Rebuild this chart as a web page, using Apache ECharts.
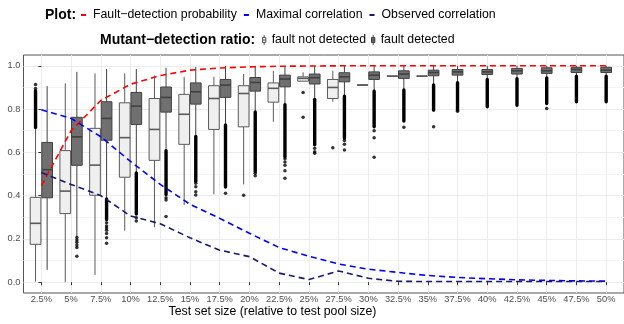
<!DOCTYPE html>
<html>
<head>
<meta charset="utf-8">
<script src="https://cdn.jsdelivr.net/npm/echarts@6/dist/echarts.min.js"></script>
<style>
  html, body { margin: 0; padding: 0; background: #fff; }
  #chart { width: 624px; height: 324px; }
</style>
</head>
<body>
<div id="chart"></div>
<script>
// test set sizes (x categories)
const sizes = ['2.5%', '5%', '7.5%', '10%', '12.5%', '15%', '17.5%', '20%', '22.5%', '25%',
  '27.5%', '30%', '32.5%', '35%', '37.5%', '40%', '42.5%', '45%', '47.5%', '50%'];

// line series
const detProb = [0.446, 0.70, 0.84, 0.915, 0.955, 0.98, 0.99, 0.995, 0.998, 0.999,
  1, 1, 1, 1, 1, 1, 1, 1, 1, 1];
const maxCorr = [0.797, 0.757, 0.672, 0.558, 0.452, 0.36, 0.295, 0.226, 0.16, 0.12,
  0.084, 0.06, 0.045, 0.031, 0.022, 0.016, 0.011, 0.008, 0.006, 0.005];
const obsCorr = [0.507, 0.452, 0.40, 0.306, 0.27, 0.205, 0.148, 0.118, 0.042, 0.012,
  0.052, 0.018, 0.004, 0.003, 0.003, 0.003, 0.003, 0.003, 0.003, 0.003];

// boxplots: [lower whisker, Q1, median, Q3, upper whisker]
const notDetBox = [
  [0.003, 0.175, 0.272, 0.392, 0.711],
  [0.0, 0.317, 0.421, 0.608, 0.919],
  [0.034, 0.402, 0.541, 0.711, 0.965],
  [0.238, 0.485, 0.668, 0.829, 0.965],
  [0.254, 0.563, 0.706, 0.849, 0.955],
  [0.357, 0.637, 0.776, 0.868, 0.949],
  [0.406, 0.706, 0.849, 0.908, 0.949],
  [0.452, 0.718, 0.872, 0.908, 0.962],
  [0.741, 0.832, 0.896, 0.921, 0.977],
  [0.929, 0.929, 0.942, 0.949, 0.970],
  [0.834, 0.849, 0.900, 0.937, 0.977],
  [0.911, 0.911, 0.911, 0.911, 0.911],
  [0.952, 0.952, 0.952, 0.952, 0.952],
  [0.952, 0.952, 0.952, 0.952, 0.952]
];
const detBox = [
  [0.057, 0.39, 0.52, 0.646, 0.906],
  [0.211, 0.540, 0.672, 0.762, 0.972],
  [0.39, 0.656, 0.757, 0.834, 0.985],
  [0.507, 0.729, 0.814, 0.877, 0.985],
  [0.612, 0.786, 0.854, 0.902, 0.991],
  [0.676, 0.823, 0.880, 0.921, 0.995],
  [0.729, 0.854, 0.911, 0.937, 1.0],
  [0.789, 0.883, 0.923, 0.946, 1.0],
  [0.822, 0.903, 0.939, 0.957, 1.0],
  [0.847, 0.916, 0.945, 0.962, 1.0],
  [0.863, 0.926, 0.949, 0.968, 1.0],
  [0.885, 0.937, 0.957, 0.972, 1.0],
  [0.89, 0.942, 0.962, 0.977, 1.0],
  [0.915, 0.954, 0.969, 0.98, 1.0],
  [0.925, 0.957, 0.972, 0.983, 1.0],
  [0.94, 0.960, 0.972, 0.983, 1.0],
  [0.945, 0.962, 0.977, 0.988, 1.0],
  [0.948, 0.965, 0.977, 0.991, 1.0],
  [0.955, 0.969, 0.983, 0.993, 1.0],
  [0.955, 0.969, 0.980, 0.993, 1.0]
];

// dense runs of outliers: [category, low, high]
const notDetRuns = [[0, 0.715, 0.885]];
const detRuns = [
  [2, 0.29, 0.385], [3, 0.315, 0.505], [4, 0.405, 0.608], [5, 0.465, 0.673],
  [6, 0.44, 0.727], [7, 0.51, 0.787], [8, 0.58, 0.82], [9, 0.635, 0.845],
  [10, 0.665, 0.86], [11, 0.718, 0.883], [12, 0.745, 0.888], [13, 0.795, 0.912],
  [14, 0.795, 0.922], [15, 0.811, 0.937], [16, 0.818, 0.94], [17, 0.826, 0.944],
  [18, 0.834, 0.952], [19, 0.834, 0.952]
];
// single outliers: [category, value]
const notDetDots = [[0, 0.895], [0, 0.914], [7, 0.402], [9, 0.877], [9, 0.762], [10, 0.621]];
const detDots = [
  [1, 0.206], [1, 0.195], [1, 0.185], [1, 0.172], [1, 0.160], [1, 0.120],
  [2, 0.275], [2, 0.26], [2, 0.25], [2, 0.24], [2, 0.225], [2, 0.205], [2, 0.18],
  [3, 0.298], [3, 0.283],
  [4, 0.39], [4, 0.38], [4, 0.303],
  [5, 0.457], [5, 0.441], [5, 0.418], [5, 0.403],
  [6, 0.411],
  [7, 0.503], [7, 0.492],
  [8, 0.57], [8, 0.555], [8, 0.54], [8, 0.515], [8, 0.48],
  [9, 0.619], [9, 0.603], [9, 0.596],
  [10, 0.655], [10, 0.637], [10, 0.611],
  [11, 0.70], [11, 0.668], [11, 0.577],
  [12, 0.716], [13, 0.718], [14, 0.79], [17, 0.803]
];

const DODGE = 0.195;
const BOX_W = 0.36;
const FONT = '"Liberation Sans", Arial, sans-serif';

const notX = i => i - DODGE;
const detX = i => i + (i < notDetBox.length ? DODGE : 0);

function boxRenderer(fill, stroke) {
  return function (params, api) {
    const x = api.value(0);
    const lo = api.coord([x, api.value(1)]);
    const q1 = api.coord([x, api.value(2)]);
    const md = api.coord([x, api.value(3)]);
    const q3 = api.coord([x, api.value(4)]);
    const hi = api.coord([x, api.value(5)]);
    const w = api.size([BOX_W, 0])[0];
    const cx = lo[0];
    const ls = { stroke: stroke, lineWidth: 1 };
    return {
      type: 'group',
      children: [
        { type: 'line', shape: { x1: cx, y1: hi[1], x2: cx, y2: q3[1] }, style: ls },
        { type: 'line', shape: { x1: cx, y1: q1[1], x2: cx, y2: lo[1] }, style: ls },
        { type: 'rect', shape: { x: cx - w / 2, y: q3[1], width: w, height: q1[1] - q3[1] },
          style: { fill: fill, stroke: stroke, lineWidth: 1 } },
        { type: 'line', shape: { x1: cx - w / 2, y1: md[1], x2: cx + w / 2, y2: md[1] },
          style: { stroke: stroke, lineWidth: 1.6 } }
      ]
    };
  };
}

function runRenderer(params, api) {
  const x = api.value(0);
  const lo = api.coord([x, api.value(1)]);
  const hi = api.coord([x, api.value(2)]);
  return {
    type: 'rect',
    shape: { x: lo[0] - 1.7, y: hi[1] - 1.7, width: 3.4, height: lo[1] - hi[1] + 3.4, r: 1.7 },
    style: { fill: '#000' }
  };
}

function lineSeries(name, color, values) {
  return {
    name: name, type: 'line', color: color, symbol: 'none', z: 5,
    lineStyle: { color: color, width: 1.6, type: [6, 4] },
    data: values.map((v, i) => [i, v])
  };
}

const chart = echarts.init(document.getElementById('chart'));
chart.setOption({
  animation: false,
  grid: { left: 23.5, top: 55, width: 604, height: 238, show: true, borderColor: '#555', borderWidth: 1 },
  xAxis: {
    type: 'value', min: -0.6, max: 19.6,
    axisLine: { show: false },
    axisTick: { length: 3, lineStyle: { color: '#333' }, customValues: sizes.map((s, i) => i) },
    axisLabel: { customValues: sizes.map((s, i) => i), formatter: v => sizes[v], fontSize: 9.3,
      color: '#4d4d4d', fontFamily: FONT, margin: 2 },
    splitLine: { lineStyle: { color: '#ebebeb' } }
  },
  yAxis: [{
    type: 'value', min: -0.05, max: 1.05,
    axisLine: { show: false },
    axisTick: { show: true, length: 3, lineStyle: { color: '#333' }, customValues: [0, 0.2, 0.4, 0.6, 0.8, 1] },
    axisLabel: { customValues: [0, 0.2, 0.4, 0.6, 0.8, 1], formatter: v => v.toFixed(1), fontSize: 9.3,
      color: '#4d4d4d', fontFamily: FONT, margin: 3 },
    splitLine: { lineStyle: { color: '#ebebeb' } }
  }, {
    type: 'value', min: -0.05, max: 1.05, position: 'right',
    axisLine: { show: false },
    axisTick: { show: false, customValues: [0.1, 0.3, 0.5, 0.7, 0.9] },
    axisLabel: { show: false },
    splitLine: { lineStyle: { color: '#f4f4f4' } }
  }],
  legend: [{
    left: 81, top: 8, padding: 0, itemGap: 7, itemWidth: 5, itemHeight: 2, icon: 'rect',
    textStyle: { fontSize: 12.3, fontFamily: FONT, color: '#000', lineHeight: 14, padding: [0, 0, 0, 2] },
    data: ['Fault−detection probability', 'Maximal correlation', 'Observed correlation']
  }, {
    left: 262, top: 33, padding: 0, itemGap: 5, itemWidth: 5, itemHeight: 10,
    textStyle: { fontSize: 12.3, fontFamily: FONT, color: '#000', lineHeight: 14 },
    data: [
      { name: 'fault not detected', icon: 'path://M2,0L2,3M0,3L4,3L4,9L0,9ZM0,6L4,6M2,9L2,12',
        itemStyle: { color: '#efefef', borderColor: '#555', borderWidth: 1 } },
      { name: 'fault detected', icon: 'path://M2,0L2,3M0,3L4,3L4,9L0,9ZM0,6L4,6M2,9L2,12',
        itemStyle: { color: '#707070', borderColor: '#404040', borderWidth: 1 } }
    ]
  }],
  graphic: [
    { type: 'text', x: 45, y: 15, style: { text: 'Plot:', font: 'bold 14px ' + FONT, fill: '#000',
      textVerticalAlign: 'middle' } },
    { type: 'text', x: 100, y: 40, style: { text: 'Mutant−detection ratio:', font: 'bold 14px ' + FONT,
      fill: '#000', textVerticalAlign: 'middle' } },
    { type: 'text', x: 272.5, y: 312, style: { text: 'Test set size (relative to test pool size)',
      font: '12.3px ' + FONT, fill: '#000', textAlign: 'center', textVerticalAlign: 'middle' } }
  ],
  series: [
    { name: 'fault not detected', type: 'custom', itemStyle: { color: '#efefef', borderColor: '#555' },
      renderItem: boxRenderer('#efefef', '#5a5a5a'), encode: { x: 0, y: [1, 2, 3, 4, 5] },
      data: notDetBox.map((b, i) => [notX(i)].concat(b)) },
    { name: 'fault detected', type: 'custom', itemStyle: { color: '#707070', borderColor: '#404040' },
      renderItem: boxRenderer('#707070', '#404040'), encode: { x: 0, y: [1, 2, 3, 4, 5] },
      data: detBox.map((b, i) => [detX(i)].concat(b)) },
    { name: 'not-det runs', type: 'custom', renderItem: runRenderer, encode: { x: 0, y: [1, 2] },
      data: notDetRuns.map(r => [notX(r[0]), r[1], r[2]]) },
    { name: 'det runs', type: 'custom', renderItem: runRenderer, encode: { x: 0, y: [1, 2] },
      data: detRuns.map(r => [detX(r[0]), r[1], r[2]]) },
    { name: 'not-det dots', type: 'scatter', symbolSize: 3.5, itemStyle: { color: '#000' },
      data: notDetDots.map(d => [notX(d[0]), d[1]]) },
    { name: 'det dots', type: 'scatter', symbolSize: 3.5, itemStyle: { color: '#000' },
      data: detDots.map(d => [detX(d[0]), d[1]]) },
    lineSeries('Fault−detection probability', '#ff0000', detProb),
    lineSeries('Maximal correlation', '#0000ff', maxCorr),
    lineSeries('Observed correlation', '#191970', obsCorr)
  ]
});
</script>
</body>
</html>
